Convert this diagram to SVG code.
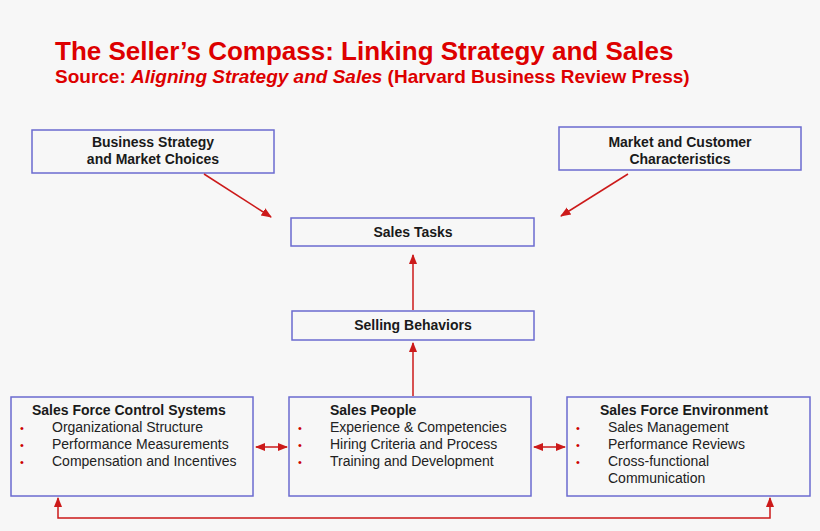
<svg xmlns="http://www.w3.org/2000/svg" width="820" height="531" viewBox="0 0 820 531">
<style>
text{font-family:"Liberation Sans",Arial,sans-serif}
.box{fill:#f7f7f7;stroke:#6b6bd0;stroke-width:1.5}
.t{font-size:14px;font-weight:bold;fill:#1a1a1a}
.i{font-size:14px;fill:#222}
.b{font-size:11px;fill:#cc0000}
.c{stroke:#cc1a1a;stroke-width:1.5;fill:none}
</style>
<defs><marker id="a" viewBox="0 0 10 10" refX="9" refY="5" markerWidth="7" markerHeight="7" orient="auto-start-reverse"><path d="M0,1L10,5L0,9z" fill="#cc1a1a"/></marker></defs>
<rect width="820" height="531" fill="#f7f7f7"/>
<text x="55" y="60" font-size="26" font-weight="bold" fill="#dd0000">The Seller’s Compass: Linking Strategy and Sales</text>
<text x="55" y="83" font-size="19" font-weight="bold" fill="#dd0000">Source: <tspan font-style="italic">Aligning Strategy and Sales</tspan> (Harvard Business Review Press)</text>
<g id="bs"><rect class="box" x="32" y="130" width="242" height="43"/><text class="t" x="153" y="147" text-anchor="middle">Business Strategy</text><text class="t" x="153" y="164" text-anchor="middle">and Market Choices</text></g>
<g id="mc"><rect class="box" x="559" y="127" width="242" height="43"/><text class="t" x="680" y="147" text-anchor="middle">Market and Customer</text><text class="t" x="680" y="164" text-anchor="middle">Characteristics</text></g>
<g id="st"><rect class="box" x="291" y="218" width="243" height="28"/><text class="t" x="413" y="237" text-anchor="middle">Sales Tasks</text></g>
<g id="sb"><rect class="box" x="292" y="311" width="242" height="29"/><text class="t" x="413" y="330" text-anchor="middle">Selling Behaviors</text></g>
<g id="sfcs"><rect class="box" x="11" y="397" width="242" height="99"/><text class="t" x="32" y="415">Sales Force Control Systems</text>
<text class="b" x="20" y="432">•</text><text class="i" x="52" y="432">Organizational Structure</text>
<text class="b" x="20" y="449">•</text><text class="i" x="52" y="449">Performance Measurements</text>
<text class="b" x="20" y="466">•</text><text class="i" x="52" y="466">Compensation and Incentives</text></g>
<g id="sp"><rect class="box" x="289" y="397" width="242" height="99"/><text class="t" x="330" y="415">Sales People</text>
<text class="b" x="298" y="432">•</text><text class="i" x="330" y="432">Experience &amp; Competencies</text>
<text class="b" x="298" y="449">•</text><text class="i" x="330" y="449">Hiring Criteria and Process</text>
<text class="b" x="298" y="466">•</text><text class="i" x="330" y="466">Training and Development</text></g>
<g id="sfe"><rect class="box" x="567" y="397" width="243" height="99"/><text class="t" x="600" y="415">Sales Force Environment</text>
<text class="b" x="576" y="432">•</text><text class="i" x="608" y="432">Sales Management</text>
<text class="b" x="576" y="449">•</text><text class="i" x="608" y="449">Performance Reviews</text>
<text class="b" x="576" y="466">•</text><text class="i" x="608" y="466">Cross-functional</text>
<text class="i" x="608" y="483">Communication</text></g>
<g id="connectors">
<path class="c" d="M204,174L271,217" marker-end="url(#a)"/>
<path class="c" d="M628,174L561,216" marker-end="url(#a)"/>
<path class="c" d="M413,310V255" marker-end="url(#a)"/>
<path class="c" d="M413,396V343" marker-end="url(#a)"/>
<path class="c" d="M256,447H287" marker-start="url(#a)" marker-end="url(#a)"/>
<path class="c" d="M534,447H565" marker-start="url(#a)" marker-end="url(#a)"/>
<path class="c" d="M58,498V518H770V498" marker-start="url(#a)" marker-end="url(#a)"/>
</g>
</svg>
